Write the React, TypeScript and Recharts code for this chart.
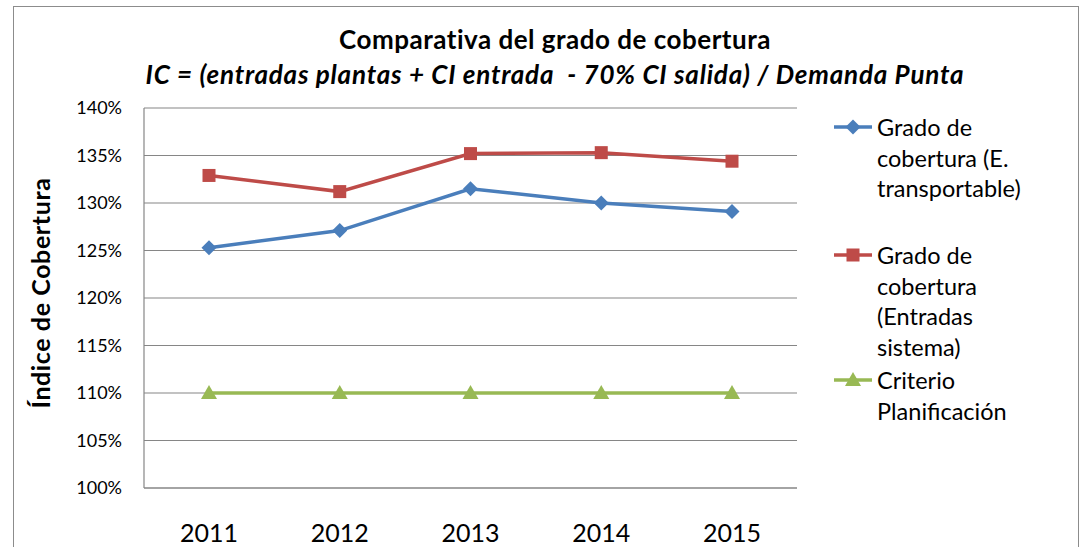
import React from "react";
import {
  LineChart,
  Line,
  XAxis,
  YAxis,
  CartesianGrid,
} from "recharts";

const years = ["2011", "2012", "2013", "2014", "2015"];
const transportable = [1.253, 1.271, 1.315, 1.3, 1.291];
const entradasSistema = [1.329, 1.312, 1.352, 1.353, 1.344];
const criterio = [1.1, 1.1, 1.1, 1.1, 1.1];
const yTicks = [1.0, 1.05, 1.1, 1.15, 1.2, 1.25, 1.3, 1.35, 1.4];

const BLUE = "#4A7EBB";
const RED = "#BE4B48";
const GREEN = "#98B954";
const FONT = "Lato, 'Liberation Sans', sans-serif";

const data = years.map((year, i) => ({
  year,
  transportable: transportable[i],
  entradas: entradasSistema[i],
  criterio: criterio[i],
}));

const legendItems = [
  { color: BLUE, shape: "diamond", lines: ["Grado de", "cobertura (E.", "transportable)"], top: 112 },
  { color: RED, shape: "square", lines: ["Grado de", "cobertura", "(Entradas", "sistema)"], top: 240 },
  { color: GREEN, shape: "triangle", lines: ["Criterio", "Planificación"], top: 365 },
];

function Marker({ cx, cy, shape, color }: { cx: number; cy: number; shape: string; color: string }) {
  if (cx == null || cy == null) return null;
  if (shape === "diamond") {
    const r = 7.5;
    return <polygon points={`${cx},${cy - r} ${cx + r},${cy} ${cx},${cy + r} ${cx - r},${cy}`} fill={color} />;
  }
  if (shape === "square") {
    const s = 13;
    return <rect x={cx - s / 2} y={cy - s / 2} width={s} height={s} fill={color} />;
  }
  const r = 8;
  return <polygon points={`${cx},${cy - r} ${cx + r},${cy + 6} ${cx - r},${cy + 6}`} fill={color} />;
}

const dotFor = (shape: string, color: string) => (props: any) => (
  <Marker key={`${shape}-${props.index}`} cx={props.cx} cy={props.cy} shape={shape} color={color} />
);

export default function App() {
  return (
    <div style={{ position: "absolute", left: 0, top: 0, width: 1082, height: 547, background: "#fff", fontFamily: FONT, overflow: "hidden" }}>
      <div style={{ position: "absolute", left: 13, top: 6, width: 1066, height: 560, border: "1.5px solid #8c8c8c", boxSizing: "border-box" }} />
      <div style={{ position: "absolute", left: 0, width: 1110, top: 23, textAlign: "center", fontWeight: 700, fontSize: 26, letterSpacing: 0.5, lineHeight: "32px" }}>
        Comparativa del grado de cobertura
      </div>
      <div style={{ position: "absolute", left: 0, width: 1110, top: 58, textAlign: "center", fontWeight: 700, fontStyle: "italic", fontSize: 26, letterSpacing: 0.8, lineHeight: "32px" }}>
        IC = (entradas plantas + CI entrada&nbsp; - 70% CI salida) / Demanda Punta
      </div>
      <div style={{ position: "absolute", left: 40, top: 293, transform: "translate(-50%, -50%) rotate(-90deg)", whiteSpace: "nowrap", fontWeight: 700, fontSize: 25, letterSpacing: 0.6 }}>
        Índice de Cobertura
      </div>

      <div style={{ position: "absolute", left: 0, top: 0 }}>
        <LineChart width={1082} height={547} data={data} margin={{ top: 108, right: 285, bottom: 0, left: 0 }}>
          <CartesianGrid vertical={false} stroke="#868686" strokeWidth={1.2} />
          <XAxis
            dataKey="year"
            height={59}
            padding={{ left: 65, right: 65 }}
            tickLine={false}
            tickSize={0}
            tickMargin={36}
            axisLine={{ stroke: "#868686", strokeWidth: 1.2 }}
            tick={{ fill: "#000", fontSize: 25, fontFamily: FONT }}
          />
          <YAxis
            width={144}
            domain={[1.0, 1.4]}
            ticks={yTicks}
            interval={0}
            tickLine={false}
            tickSize={0}
            tickMargin={22}
            axisLine={{ stroke: "#868686", strokeWidth: 1.2 }}
            tickFormatter={(v: number) => `${Math.round(v * 100)}%`}
            tick={{ fill: "#000", fontSize: 18, fontFamily: FONT }}
          />
          <Line dataKey="transportable" stroke={BLUE} strokeWidth={3.5} dot={dotFor("diamond", BLUE)} isAnimationActive={false} />
          <Line dataKey="entradas" stroke={RED} strokeWidth={3.5} dot={dotFor("square", RED)} isAnimationActive={false} />
          <Line dataKey="criterio" stroke={GREEN} strokeWidth={3.5} dot={dotFor("triangle", GREEN)} isAnimationActive={false} />
        </LineChart>
      </div>

      {legendItems.map((item) => (
        <div key={item.shape} style={{ position: "absolute", left: 834, top: item.top }}>
          <svg width={40} height={30} style={{ position: "absolute", left: 0, top: 0 }}>
            <line x1={0} x2={38} y1={15} y2={15} stroke={item.color} strokeWidth={3.5} />
            <Marker cx={19} cy={15} shape={item.shape} color={item.color} />
          </svg>
          <div style={{ position: "absolute", left: 43, top: 0, fontSize: 23.5, lineHeight: "30.5px", whiteSpace: "nowrap", color: "#000" }}>
            {item.lines.map((l) => (
              <div key={l}>{l}</div>
            ))}
          </div>
        </div>
      ))}
    </div>
  );
}
